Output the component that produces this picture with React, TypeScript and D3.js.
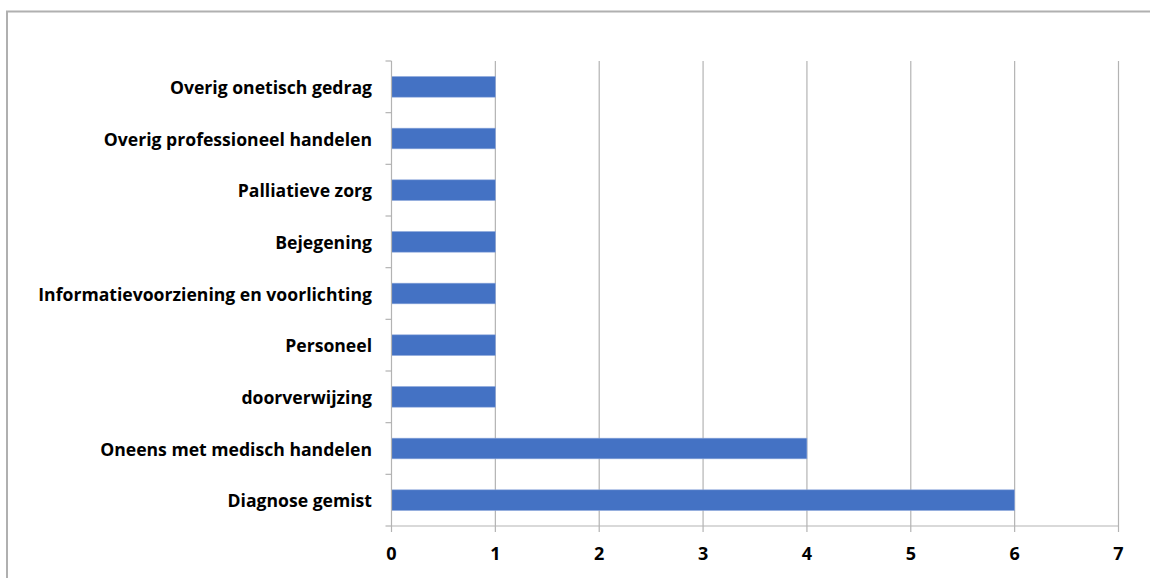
import React from "react";
import * as d3 from "d3";

const categories = [
  "Overig onetisch gedrag",
  "Overig professioneel handelen",
  "Palliatieve zorg",
  "Bejegening",
  "Informatievoorziening en voorlichting",
  "Personeel",
  "doorverwijzing",
  "Oneens met medisch handelen",
  "Diagnose gemist",
];
const counts = [1, 1, 1, 1, 1, 1, 1, 4, 6];
const xTicks = [0, 1, 2, 3, 4, 5, 6, 7];

const W = 1150;
const H = 578;
const left = 391.5;
const right = 1118.5;
const top = 61;
const bottom = 526;
const font = "'Open Sans', sans-serif";
const grid = "#b3b3b3";

export default function App() {
  const x = d3.scaleLinear().domain([0, 7]).range([left, right]);
  const y = d3
    .scaleBand<string>()
    .domain(categories)
    .range([top, bottom])
    .paddingInner(0.6)
    .paddingOuter(0.3);
  const bandEdges = d3.range(categories.length + 1).map((i) => top + i * ((bottom - top) / categories.length));

  return (
    <svg
      width={W}
      height={H}
      style={{ position: "absolute", left: 0, top: 0, background: "#fff" }}
    >
      <rect x={7} y={11.5} width={W + 20} height={H + 20} fill="#fff" stroke="#b0b0b0" strokeWidth={2} />
      {/* vertical gridlines */}
      {xTicks.slice(1).map((t) => (
        <line key={"g" + t} x1={x(t)} x2={x(t)} y1={top} y2={bottom} stroke={grid} strokeWidth={1.2} />
      ))}
      {/* bars */}
      {categories.map((c, i) => (
        <rect
          key={c}
          x={x(0)}
          y={y(c)}
          width={x(counts[i]) - x(0)}
          height={y.bandwidth()}
          fill="#4472C4"
          stroke="#8fa9dc"
          strokeWidth={0.6}
        />
      ))}
      {/* category axis */}
      <line x1={left} x2={left} y1={top} y2={bottom} stroke={grid} strokeWidth={1.2} />
      {bandEdges.map((v, i) => (
        <line key={"ct" + i} x1={left - 6} x2={left} y1={v} y2={v} stroke={grid} strokeWidth={1.2} />
      ))}
      {categories.map((c) => (
        <text
          key={"l" + c}
          x={372}
          y={(y(c) as number) + y.bandwidth() / 2}
          textAnchor="end"
          dominantBaseline="central"
          fontFamily={font}
          fontWeight="bold"
          fontSize={17.6}
          fill="#000"
        >
          {c}
        </text>
      ))}
      {/* value axis */}
      <line x1={left} x2={right} y1={bottom} y2={bottom} stroke={grid} strokeWidth={1.2} />
      {xTicks.map((t) => (
        <g key={"xt" + t}>
          <line x1={x(t)} x2={x(t)} y1={bottom} y2={bottom + 6} stroke={grid} strokeWidth={1.2} />
          <text
            x={x(t)}
            y={553}
            textAnchor="middle"
            dominantBaseline="central"
            fontFamily={font}
            fontWeight="bold"
            fontSize={18}
            fill="#000"
          >
            {t}
          </text>
        </g>
      ))}
    </svg>
  );
}
